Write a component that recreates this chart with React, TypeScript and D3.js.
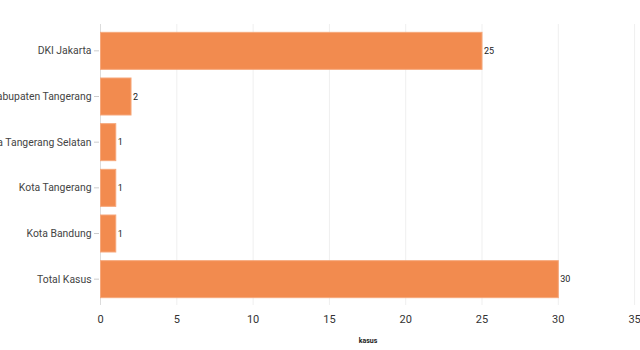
import React from "react";
import * as d3 from "d3";

const categories = ["DKI Jakarta", "Kabupaten Tangerang", "Kota Tangerang Selatan", "Kota Tangerang", "Kota Bandung", "Total Kasus"];
const values = [25, 2, 1, 1, 1, 30];
const xTicks = [0, 5, 10, 15, 20, 25, 30, 35];
const xTitle = "kasus";

export default function App() {
  const W = 640, H = 350;
  const x = d3.scaleLinear().domain([0, 35]).range([100.5, 634.6]);
  const y = d3.scaleBand<string>().domain(categories).range([28, 302]).paddingInner(0.19).paddingOuter(0.095);
  const font = "Roboto, 'Noto Sans', sans-serif";
  return (
    <svg width={W} height={H} style={{ position: "absolute", left: 0, top: 0, background: "#fff" }} fontFamily={font}>
      {xTicks.map((t) => (
        <line key={"g" + t} x1={x(t)} x2={x(t)} y1={24} y2={305} stroke="#efefef" strokeWidth={1} />
      ))}
      <line x1={x(0)} x2={x(0)} y1={24} y2={305} stroke="#dcdcdc" strokeWidth={1} />
      {categories.map((c, i) => {
        const yy = y(c)!;
        const cy = yy + y.bandwidth() / 2;
        return (
          <g key={c}>
            <line x1={94} x2={99} y1={cy} y2={cy} stroke="#ccc" />
            <text x={91.5} y={cy} dy="0.35em" textAnchor="end" fontSize={10.4} fill="#444">{c}</text>
            <rect x={x(0)} y={yy} width={x(values[i]) - x(0)} height={y.bandwidth()} fill="#f28b4f" stroke="#f6a77a" strokeWidth={1} />
            <text x={x(values[i]) + 2} y={cy} dy="0.35em" fontSize={9} fill="#222">{values[i]}</text>
          </g>
        );
      })}
      {xTicks.map((t) => (
        <text key={"t" + t} x={x(t)} y={323} textAnchor="middle" fontSize={11} fill="#333">{t}</text>
      ))}
      <text x={368} y={343} textAnchor="middle" fontSize={7} fontWeight="bold" fill="#222">{xTitle}</text>
    </svg>
  );
}
